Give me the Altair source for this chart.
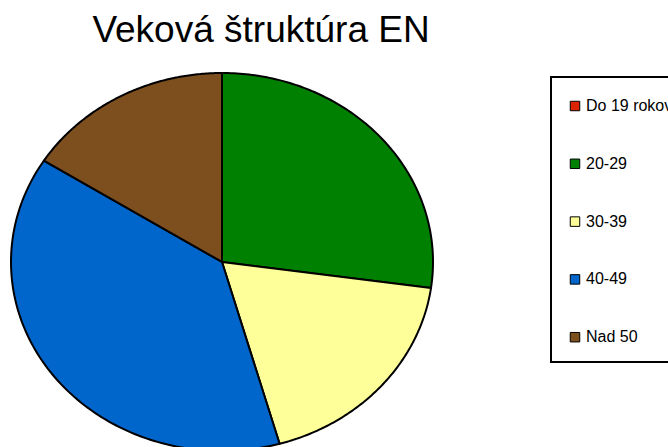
import altair as alt
import pandas as pd

# --- data ---
categories = ["Do 19 rokov", "20-29", "30-39", "40-49", "Nad 50"]
counts = [0, 34, 23, 48, 20]
colors = ["#DD2200", "#008000", "#FFFF99", "#0066CC", "#7D4E1E"]
title_text = "Veková štruktúra EN"

N = 120  # points along each slice's outer edge

total = float(sum(counts))
rows = []
cum = 0.0
for i, (c, v) in enumerate(zip(categories, counts)):
    start = cum / total
    cum += v
    end = cum / total
    for k in range(-1, N + 2):
        rows.append({"cat": c, "idx": i, "start": start, "end": end, "k": k})
df = pd.DataFrame(rows)

chart = (
    alt.Chart(df)
    .transform_calculate(
        a=f"2*PI*(datum.start + (datum.end - datum.start)*clamp(datum.k,0,{N})/{N})",
        inside=f"datum.k >= 0 && datum.k <= {N}",
    )
    .transform_calculate(
        px="datum.inside ? sin(datum.a) : 0",
        py="datum.inside ? cos(datum.a) : 0",
    )
    .mark_line(stroke="black", strokeWidth=2, strokeJoin="round", interpolate="linear")
    .encode(
        x=alt.X("px:Q", axis=None, scale=alt.Scale(domain=[-1, 1], nice=False, zero=False)),
        y=alt.Y("py:Q", axis=None, scale=alt.Scale(domain=[-0.979, 1], nice=False, zero=False)),
        fill=alt.Fill(
            "cat:N",
            scale=alt.Scale(domain=categories, range=colors),
            sort=categories,
            legend=alt.Legend(
                title=" ",
                titleFontSize=1,
                titlePadding=4,
                orient="none",
                legendX=540,
                legendY=4,
                symbolType="square",
                symbolSize=90,
                symbolStrokeColor="black",
                symbolStrokeWidth=1,
                symbolOpacity=1,
                labelFont="Liberation Sans",
                labelFontSize=16,
                labelColor="black",
                labelOffset=3,
                rowPadding=41.8,
                padding=16,
                strokeColor="black",
            ),
        ),
        detail="cat:N",
        order=alt.Order("k:Q"),
    )
    .properties(
        width=422,
        height=374,
        autosize=alt.AutoSizeParams(type="none"),
        padding={"left": 11, "top": 73, "right": 235, "bottom": 0},
        title=alt.TitleParams(
            title_text,
            font="Liberation Sans",
            fontSize=37,
            fontWeight="normal",
            color="black",
            anchor="middle",
            dx=39,
            dy=35,
            offset=28,
            baseline="alphabetic",
        ),
    )
    .configure_view(stroke=None)
    .configure_legend(strokeWidth=2)
)

chart.save("out.html", embed_options={"renderer": "svg", "actions": False})
